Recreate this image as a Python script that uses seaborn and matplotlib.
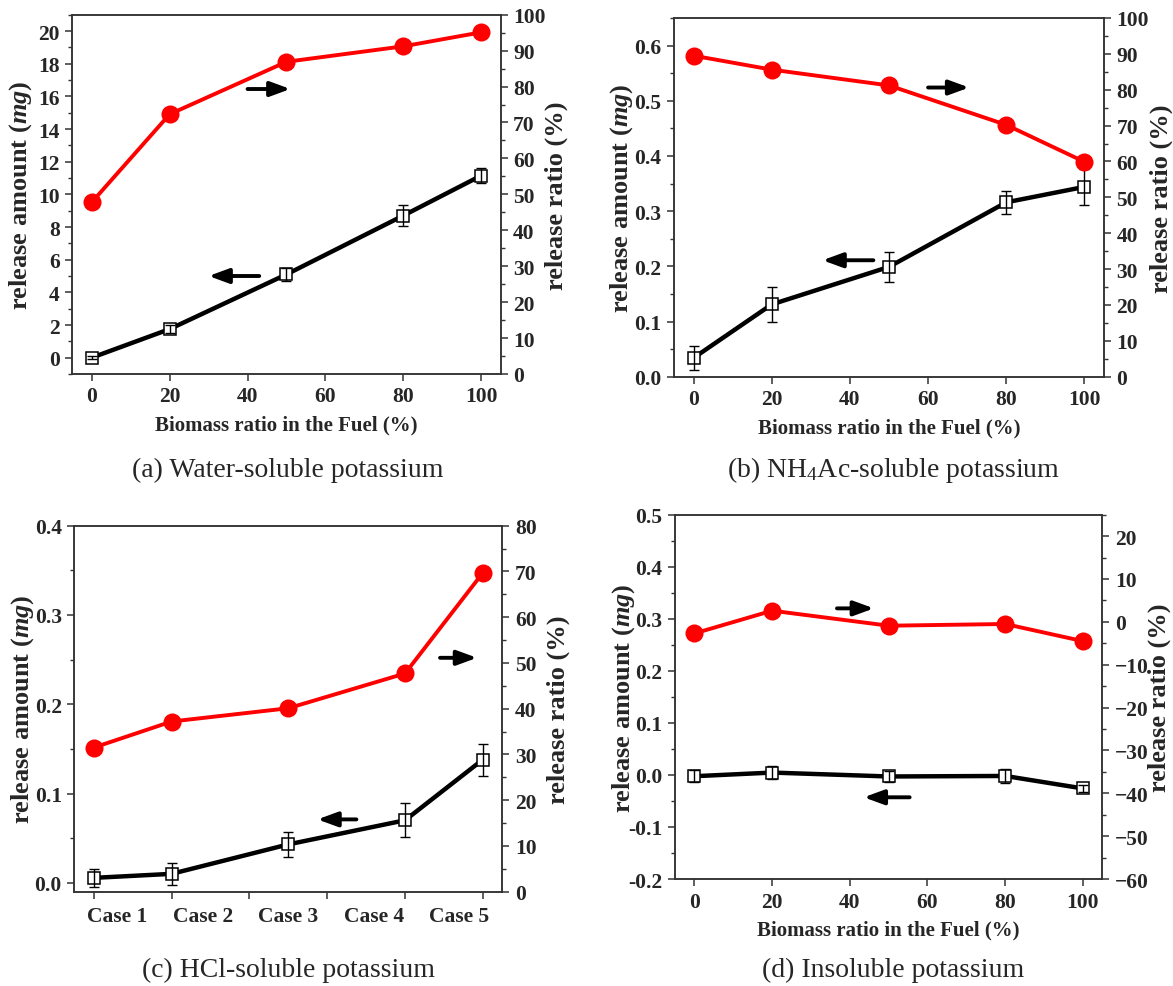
import numpy as np
import pandas as pd
import matplotlib
matplotlib.use("Agg")
import matplotlib.pyplot as plt
import seaborn as sns
from matplotlib.ticker import MultipleLocator

# biomass share in the fuel, same for every panel
biomass = [0, 20, 50, 80, 100]

# (a) water-soluble K
a_amount = [0.0, 1.75, 5.1, 8.7, 11.15]
a_err = [0.08, 0.25, 0.4, 0.65, 0.45]
a_ratio = [47.8, 72.3, 86.9, 91.2, 95.1]

# (b) NH4Ac-soluble K
b_amount = [0.034, 0.131, 0.199, 0.316, 0.344]
b_err = [0.021, 0.031, 0.027, 0.021, 0.032]
b_ratio = [89.5, 85.6, 81.2, 70.2, 59.9]

# (c) HCl-soluble K
c_amount = [0.0055, 0.010, 0.043, 0.070, 0.138]
c_err = [0.010, 0.012, 0.014, 0.019, 0.018]
c_ratio = [31.5, 37.2, 40.1, 47.7, 69.7]
case_labels = ["Case 1", "Case 2", "Case 3", "Case 4", "Case 5"]

# (d) insoluble K
d_amount = [-0.0025, 0.0045, -0.003, -0.002, -0.026]
d_err = [0.012, 0.013, 0.011, 0.014, 0.006]
d_ratio = [-2.7, 2.6, -0.9, -0.5, -4.5]

captions = ["(a) Water-soluble potassium",
            "(b) NH$_4$Ac-soluble potassium",
            "(c) HCl-soluble potassium",
            "(d) Insoluble potassium"]

sns.set_theme(style="ticks")
plt.rcParams["font.family"] = ["Liberation Serif", "DejaVu Serif"]
plt.rcParams["font.weight"] = "bold"
plt.rcParams["axes.labelweight"] = "bold"
plt.rcParams["mathtext.fontset"] = "custom"
plt.rcParams["mathtext.rm"] = "Liberation Serif:normal"
plt.rcParams["mathtext.it"] = "Liberation Serif:italic:bold"
plt.rcParams["mathtext.bf"] = "Liberation Serif:bold"

W, H = 1173, 987
fig = plt.figure(figsize=(W / 100, H / 100), dpi=100)

# axes boxes in pixels: left, top, right, bottom
boxes = [(72.3, 15.7, 500.7, 375.0),
         (674.0, 19.0, 1104.0, 377.7),
         (74.3, 526.7, 502.3, 892.7),
         (675.0, 515.7, 1102.3, 880.0)]


def make_axes(box):
    l, t, r, b = box
    return fig.add_axes([l / W, 1 - b / H, (r - l) / W, (b - t) / H])


def style_axis(ax):
    for s in ax.spines.values():
        s.set_color("#333333")
        s.set_linewidth(1.1)
    ax.tick_params(which="major", direction="out", length=5, width=1.1,
                   labelsize=15.5, color="#333333", pad=4)
    ax.tick_params(which="minor", direction="out", length=3, width=1.0,
                   color="#333333")


def draw_panel(box, amount, err, ratio, ylim_l, ystep, ylim_r, rstep,
               arrows, fmt_left=None, rlab_x=1.103):
    ax = make_axes(box)
    df = pd.DataFrame({"biomass": biomass, "amount": amount, "ratio": ratio})
    sns.lineplot(data=df, x="biomass", y="amount", ax=ax, color="black",
                 lw=3.2, marker="s", markersize=8, markerfacecolor="white",
                 markeredgecolor="black", markeredgewidth=1.1, zorder=3)
    ax.errorbar(biomass, amount, yerr=err, fmt="none", ecolor="black",
                elinewidth=1.0, capsize=3.5, capthick=1.0, zorder=4)
    ax.set_xlim(-5, 105)
    ax.set_ylim(*ylim_l)
    ax.xaxis.set_major_locator(MultipleLocator(20))
    ax.yaxis.set_major_locator(MultipleLocator(ystep))
    ax.yaxis.set_minor_locator(MultipleLocator(ystep / 2))
    if fmt_left:
        ax.yaxis.set_major_formatter(fmt_left)
    ax.set_xlabel("Biomass ratio in the Fuel (%)", fontsize=15, labelpad=6)
    ax.set_ylabel("release amount ($mg$)", fontsize=19)
    ax.yaxis.set_label_coords(-0.09, 0.5)
    style_axis(ax)

    ax2 = ax.twinx()
    sns.lineplot(data=df, x="biomass", y="ratio", ax=ax2, color="#ff0000",
                 lw=2.8, marker="o", markersize=13, markeredgecolor="#ff0000",
                 markeredgewidth=0, zorder=3)
    ax2.set_ylim(*ylim_r)
    ax2.yaxis.set_major_locator(MultipleLocator(rstep))
    ax2.yaxis.set_minor_locator(MultipleLocator(rstep / 2))
    ax2.set_ylabel("release ratio (%)", fontsize=19)
    ax2.yaxis.set_label_coords(rlab_x, 0.5)
    style_axis(ax2)

    for (x0, x1, y) in arrows:
        ax.annotate("", xy=(x1, y), xytext=(x0, y),
                    arrowprops=dict(arrowstyle="-|>,head_length=0.6,head_width=0.22",
                                    color="black", lw=2.8, mutation_scale=20,
                                    shrinkA=0, shrinkB=0))
    return ax, ax2


one_dec = matplotlib.ticker.FormatStrFormatter("%.1f")

ax_a, _ = draw_panel(boxes[0], a_amount, a_err, a_ratio, (-1, 21), 2,
                     (0, 100), 10, [(40, 51, 16.45), (43, 30, 5.0)])
ax_b, _ = draw_panel(boxes[1], b_amount, b_err, b_ratio, (0, 0.65), 0.1,
                     (0, 100), 10, [(60, 70.5, 0.524), (46, 33, 0.211)],
                     one_dec, rlab_x=1.105)
ax_c, _ = draw_panel(boxes[2], c_amount, c_err, c_ratio, (-0.01, 0.4), 0.1,
                     (0, 80), 10, [(89, 98.5, 0.252), (67.5, 57.5, 0.071)],
                     one_dec)
ax_d, _ = draw_panel(boxes[3], d_amount, d_err, d_ratio, (-0.2, 0.5), 0.1,
                     (-60, 25), 10, [(36.7, 46.2, 0.32), (55.4, 43.6, -0.043)],
                     one_dec, rlab_x=1.106)

# panel c: case names instead of biomass numbers
ax_c.set_xticks([0, 20, 40, 60, 80, 100], labels=[])
ax_c.set_xticks([6, 28, 50, 72, 94], labels=case_labels, minor=True)
ax_c.tick_params(axis="x", which="minor", length=0, labelsize=15.5, pad=10)
ax_c.set_xlabel("")

cap_pos = [(288, 470), (893, 470), (288, 970), (893, 970)]
for (cx, cy), text in zip(cap_pos, captions):
    fig.text(cx / W, 1 - cy / H, text, ha="center", va="center",
             fontsize=20, fontweight="normal")

fig.savefig("out.png", dpi=100)
